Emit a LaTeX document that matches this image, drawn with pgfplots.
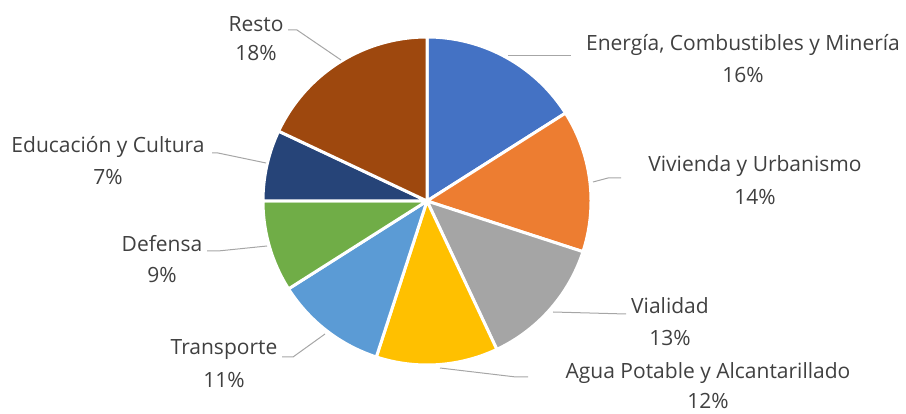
\documentclass[border=0pt]{standalone}
\usepackage{pgfplots}
\pgfplotsset{compat=1.18}
\usepackage{fontspec}
\setmainfont{Open Sans}
\definecolor{cA}{HTML}{4472C4}
\definecolor{cB}{HTML}{ED7D31}
\definecolor{cC}{HTML}{A5A5A5}
\definecolor{cD}{HTML}{FFC000}
\definecolor{cE}{HTML}{5B9BD5}
\definecolor{cF}{HTML}{70AD47}
\definecolor{cG}{HTML}{264478}
\definecolor{cH}{HTML}{9E480E}
\definecolor{txt}{HTML}{404040}
\definecolor{lead}{HTML}{A6A6A6}
\tikzset{lbl/.style={font=\fontsize{21bp}{25bp}\selectfont, text=txt, inner sep=0pt}}
% wedge: #1 cumulative share before, #2 share (percent), #3 colour
\newcommand{\piewedge}[3]{%
  \addplot[fill=#3, draw=white, line width=3bp, line join=round,
    domain={90-3.6*(#1+#2)}:{90-3.6*(#1)}, samples=90, variable=\t]
    ({427+164*cos(\t)},{213+164*sin(\t)}) -- (axis cs:427,213) -- cycle;}
\begin{document}
\begin{tikzpicture}
\path[use as bounding box] (0,0) rectangle (906bp,414bp);
\begin{axis}[width=906bp, height=414bp, scale only axis,
  xmin=0, xmax=906, ymin=0, ymax=414, hide axis, clip=false]
% shares: 16 14 13 12 11 9 7 18
\piewedge{0}{16}{cA}
\piewedge{16}{14}{cB}
\piewedge{30}{13}{cC}
\piewedge{43}{12}{cD}
\piewedge{55}{11}{cE}
\piewedge{66}{9}{cF}
\piewedge{75}{7}{cG}
\piewedge{82}{18}{cH}
% leader lines
\addplot[lead, line width=1bp] coordinates {(508,358) (571,358)};
\addplot[lead, line width=1bp] coordinates {(593,232) (608,236) (621,236)};
\addplot[lead, line width=1bp] coordinates {(553,102) (626,100)};
\addplot[lead, line width=1bp] coordinates {(440,46) (516,37) (528,37)};
\addplot[lead, line width=1bp] coordinates {(325,80) (293,57) (282,57)};
\addplot[lead, line width=1bp] coordinates {(267,168) (218,163) (207,163)};
\addplot[lead, line width=1bp] coordinates {(266,251) (218,261) (212,261)};
\addplot[lead, line width=1bp] coordinates {(341,354) (297,384) (288,384)};
% labels
\node[lbl] at (axis cs:743,369) {Energía, Combustibles y Minería};
\node[lbl] at (axis cs:743,339) {16\%};
\node[lbl] at (axis cs:755,248) {Vivienda y Urbanismo};
\node[lbl] at (axis cs:755,217) {14\%};
\node[lbl] at (axis cs:670,108) {Vialidad};
\node[lbl] at (axis cs:670,76) {13\%};
\node[lbl] at (axis cs:708,41) {Agua Potable y Alcantarillado};
\node[lbl] at (axis cs:708,13) {12\%};
\node[lbl] at (axis cs:224,64) {Transporte};
\node[lbl] at (axis cs:224,34) {11\%};
\node[lbl] at (axis cs:162,170) {Defensa};
\node[lbl] at (axis cs:162,139) {9\%};
\node[lbl] at (axis cs:108,267) {Educación y Cultura};
\node[lbl] at (axis cs:108,237) {7\%};
\node[lbl] at (axis cs:256,390) {Resto};
\node[lbl] at (axis cs:256,361) {18\%};
\end{axis}
\end{tikzpicture}
\end{document}
